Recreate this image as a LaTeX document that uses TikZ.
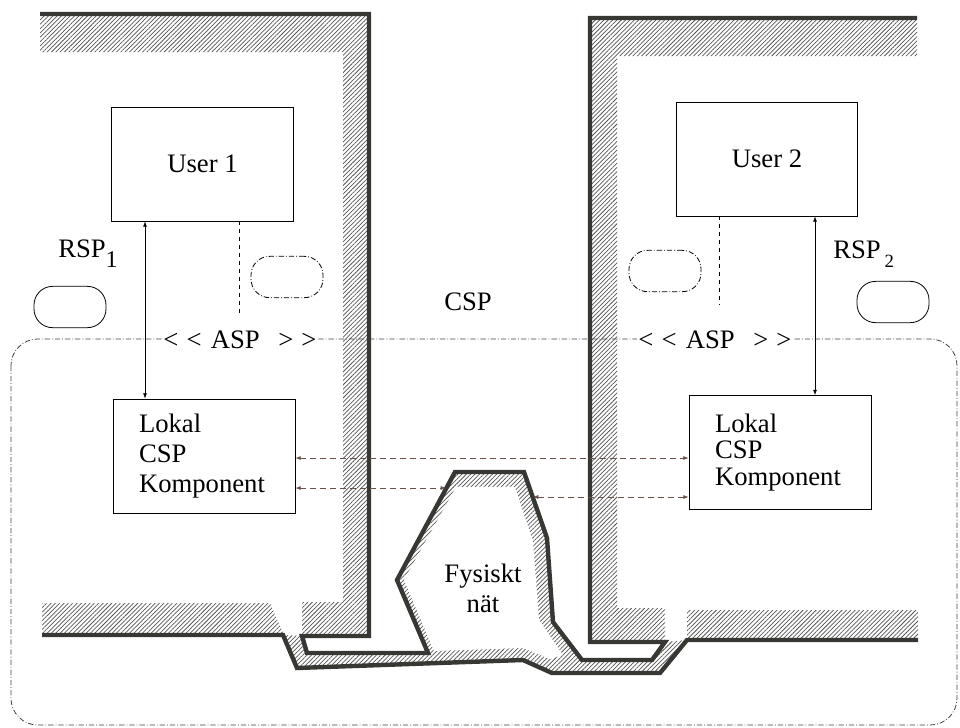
\documentclass[tikz,border=0pt]{standalone}
\usepackage{fontspec}
\setmainfont{Liberation Serif}
\usetikzlibrary{arrows.meta,patterns.meta}
\definecolor{walldark}{RGB}{55,55,52}
\definecolor{hatchgray}{RGB}{85,85,85}
\definecolor{linkbrown}{RGB}{105,80,72}

\begin{document}
\begin{tikzpicture}[
    x=0.75pt, y=-0.75pt,
    font=\fontsize{20}{24}\selectfont,
    wall/.style={line width=3.3pt, color=walldark, line join=miter},
    hatched/.style={pattern={Lines[angle=45,distance=2.3pt,line width=0.55pt]}, pattern color=hatchgray},
    box/.style={draw, line width=0.6pt, minimum width=136pt, minimum height=85.5pt},
    lokalbox/.style={box, align=left, text width=97.5pt, inner xsep=19.5pt, inner ysep=0pt},
    bubble/.style={draw, line width=0.6pt, rounded corners=14pt, minimum width=54pt, minimum height=31pt},
    dotdash/.style={dash pattern=on 4pt off 1.5pt on 0.6pt off 1.5pt},
    link/.style={{Latex[length=4pt,width=3pt]}-{Latex[length=4pt,width=3pt]}, line width=0.5pt},
    netlink/.style={link, linkbrown, dash pattern=on 4.5pt off 3pt},
    ]
    \useasboundingbox (0,0) rectangle (960,728);

    \fill [hatched]
        (40,14) -- (369,14) -- (369,636) -- (302,636) -- (302,602)
        -- (343,602) -- (343,52) -- (40,52) -- cycle
        ;

    \fill [hatched]
        (42,603) -- (270,603) -- (284,635) -- (42,635) -- cycle
        ;

    \fill [hatched]
        (588,18) -- (917,18) -- (917,56) -- (617,56) -- (617,608)
        -- (665,608) -- (665,642) -- (590,642) -- cycle
        ;

    \fill [hatched]
        (687,610) -- (918,610) -- (918,640) -- (687,640) -- cycle
        ;

    \fill [hatched]
        (283,635) -- (297,668) -- (523,660) -- (552,673) -- (660,673) -- (687,640)
        -- (665,642) -- (652,660) -- (582,660) -- (553,622) -- (547,538) -- (524,472)
        -- (455,472) -- (397,580) -- (428,653) -- (307,653) -- (302,636) -- cycle
        ;

    \fill [white]
        (456,487) -- (515,487) -- (533,542) -- (539,620) -- (563,655)
        -- (550,659) -- (523,648) -- (434,651) -- (404,580) -- cycle
        ;

    \draw [wall]
        (42,635) -- (283,635) -- (297,668) -- (523,660) -- (552,673)
        -- (660,673) -- (687,640) -- (918,640)
        ;

    \draw [wall]
        (40,14) -- (369,14) -- (369,636) -- (302,636) -- (307,653) -- (428,653)
        -- (397,580) -- (455,472) -- (524,472) -- (547,538) -- (553,622)
        -- (582,660) -- (652,660) -- (665,642) -- (590,642) -- (590,18) -- (917,18)
        ;

    \draw [dotdash, rounded corners=20pt, line width=0.6pt, black!75]
        (11,339) rectangle (957,725)
        ;

    \node [box] (user1) at (202.5,164) {User 1};
    \node [box] (user2) at (767,159) {User 2};

    \node [lokalbox, font=\fontsize{20}{22.5}\selectfont] (lokal1) at (204,456)
        {Lokal\\CSP\\Komponent};
    \node [lokalbox, font=\fontsize{20}{20}\selectfont] (lokal2) at (780,452.5)
        {Lokal\\CSP\\Komponent};

    \node [bubble] (rspbubble1) at (70,307) {};
    \node [bubble, dotdash] (aspbubble1) at (287,277) {};
    \node [bubble, dotdash] (aspbubble2) at (665,271) {};
    \node [bubble] (rspbubble2) at (893,302) {};

    \node [anchor=base west, inner sep=0pt] (rsp1) at (58,257)
        {RSP\raisebox{-8pt}{\fontsize{18}{18}\selectfont 1}};
    \node [anchor=base west, inner sep=0pt] (rsp2) at (833,258)
        {RSP\hspace{3pt}\raisebox{-7pt}{\fontsize{14}{14}\selectfont 2}};

    \node (csp) at (468,302) {CSP};

    \node [fill=white, inner sep=1pt] (asp1) at (240,340)
        {<\hspace{6pt}<\hspace{7pt}ASP\hspace{14pt}>\hspace{6pt}>};
    \node [fill=white, inner sep=1pt] (asp2) at (715,340)
        {<\hspace{6pt}<\hspace{7pt}ASP\hspace{14pt}>\hspace{6pt}>};

    \node [align=center, font=\fontsize{20}{22.5}\selectfont] (fysiskt) at (483,588)
        {Fysiskt\\nät};

    \coordinate (rspA) at (145,0);
    \coordinate (rspB) at (815,0);
    \coordinate (aspA) at (239,315);
    \coordinate (aspB) at (719,305);
    \coordinate (linkTop) at (0,458);
    \coordinate (fysA) at (446,488);
    \coordinate (fysB) at (533,497);

    \draw [link]
        (user1.south -| rspA) -- (lokal1.north -| rspA)
        ;

    \draw [link]
        (user2.south -| rspB) -- (lokal2.north -| rspB)
        ;

    \draw [dashed, line width=0.6pt]
        (user1.south -| aspA) -- (aspA)
        ;

    \draw [dashed, line width=0.6pt]
        (user2.south -| aspB) -- (aspB)
        ;

    \draw [netlink]
        (lokal1.east |- linkTop) -- (lokal2.west |- linkTop)
        ;

    \draw [netlink]
        (lokal1.east |- fysA) -- (fysA)
        ;

    \draw [netlink]
        (fysB) -- (lokal2.west |- fysB)
        ;
\end{tikzpicture}
\end{document}
